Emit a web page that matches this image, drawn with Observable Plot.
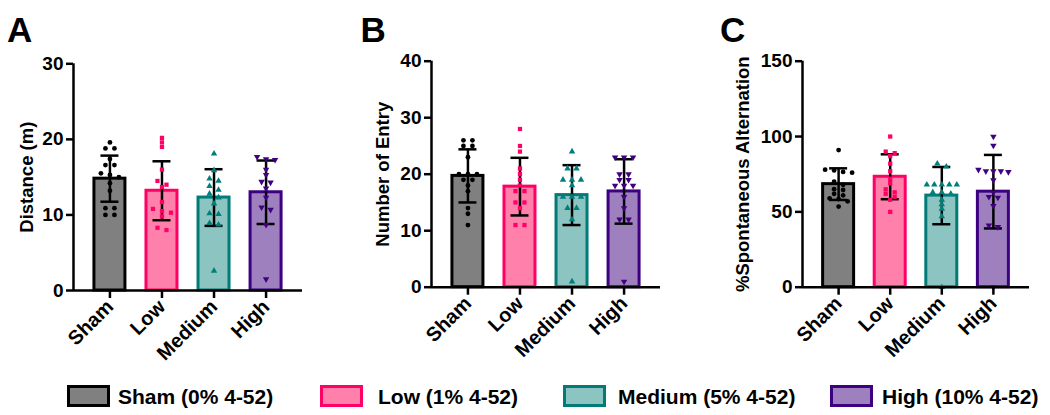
<!DOCTYPE html>
<html><head><meta charset="utf-8">
<script src="https://cdn.jsdelivr.net/npm/d3@7"></script>
<script src="https://cdn.jsdelivr.net/npm/@observablehq/plot@0.6"></script>
<style>
body{margin:0;background:#fff;}
#root{position:relative;width:1050px;height:415px;overflow:hidden;background:#fff;font-family:"Liberation Sans",Arial,sans-serif;font-weight:bold;color:#000}
.panel{position:absolute;top:0}
.letter{position:absolute;font-size:35px;line-height:35px;top:12px}
.sw{position:absolute;top:385px;width:37px;height:16px;border:3px solid;box-sizing:content-box}
.lt{position:absolute;top:386px;font-size:21px;line-height:22px;white-space:nowrap}
</style></head><body><div id="root"></div>
<script>
// ---------- data ----------
const groups = ["Sham", "Low", "Medium", "High"];
const legendLabels = ["Sham (0% 4-52)", "Low (1% 4-52)", "Medium (5% 4-52)", "High (10% 4-52)"];

// Panel A: Distance (m)
const distSham   = [19.6, 18.8, 18.8, 17.4, 16.6, 16.6, 15.5, 15.3, 15.0, 14.2, 13.2, 10.9, 10.9, 10.0, 10.0];
const distLow    = [20.2, 19.6, 19.0, 16.0, 14.5, 14.0, 13.7, 11.7, 10.8, 10.5, 10.3, 9.8, 8.3, 8.0];
const distMedium = [18.1, 15.9, 14.8, 14.5, 13.8, 13.3, 12.8, 12.3, 11.5, 10.2, 10.1, 8.9, 8.7, 2.6];
const distHigh   = [17.7, 17.4, 17.3, 16.0, 15.3, 14.4, 14.3, 13.5, 12.3, 11.0, 10.7, 8.7, 1.5];
const distMean = [14.8, 13.2, 12.3, 13.0];
const distSD   = [3.05, 3.9, 3.75, 4.2];
const distTicks = [0, 10, 20, 30];

// Panel B: Number of Entry
const entSham   = [26, 26, 25, 25, 23, 20, 20, 20, 19, 19, 18, 17, 14, 13, 11];
const entLow    = [28, 25, 24, 21, 20, 19, 18, 17, 17, 15, 15, 14, 11, 11];
const entMedium = [24, 21, 21, 19, 19, 19, 18, 16, 16, 16, 14, 14, 12, 1];
const entHigh   = [23, 23, 23, 20, 20, 19, 19, 18, 18, 18, 16, 14, 12, 12, 1];
const entMean = [19.7, 17.8, 16.3, 16.95];
const entSD   = [4.7, 5.1, 5.3, 5.7];
const entTicks = [0, 10, 20, 30, 40];

// Panel C: %Spontaneous Alternation
const altSham   = [91, 78, 77.5, 76.5, 76, 70, 68, 65, 64.5, 62, 61, 59, 58.5, 57, 53.5];
const altLow    = [100, 90, 89, 87, 82, 77, 72, 69, 65, 63, 62, 60, 58, 50];
const altMedium = [82, 80, 68, 68, 68, 68, 68, 63, 63, 62, 58, 55, 52, 47, 0];
const altHigh   = [100, 94, 78, 77, 77, 77, 76.5, 71, 63, 60, 59.5, 54, 41, 40, 0];
const altMean = [68.4, 73.3, 60.8, 63.4];
const altSD   = [10.5, 14.9, 19.0, 24.4];
const altTicks = [0, 50, 100, 150];

// ---------- styles ----------
const barFill   = ["#808080", "#FF80AB", "#8CC4C1", "#9E80BF"];
const barStroke = ["#000000", "#FF0066", "#007B78", "#3C0080"];
const ptColor   = ["#000000", "#FF0066", "#00807C", "#400080"];
const triDown = {
  draw(context, size) {
    const y = -Math.sqrt(size / (Math.sqrt(3) * 3));
    context.moveTo(0, -y * 2);
    context.lineTo(-Math.sqrt(3) * y, y);
    context.lineTo(Math.sqrt(3) * y, y);
    context.closePath();
  }
};
const symbols = ["circle", "square", "triangle", triDown];

function panel(o) {
  const x0 = -0.7, x1 = 3.7;
  const frameW = o.width - o.mL - o.mR, frameH = o.height - o.mT - o.mB;
  const pxX = frameW / (x1 - x0), pxY = frameH / o.yMax;
  const pts = [];
  o.values.forEach((vals, gi) => {
    const sorted = vals.slice().sort((a, b) => b - a);
    const rows = [];
    for (const v of sorted) {
      const r = rows[rows.length - 1];
      if (r && (r[0] - v) * pxY < 4) r.push(v); else rows.push([v]);
    }
    for (const r of rows) {
      const n = r.length, step = n > 1 ? Math.min(9, 30 / (n - 1)) : 0;
      r.forEach((v, k) => pts.push({g: gi, v, x: gi + (k - (n - 1) / 2) * step / pxX}));
    }
  });
  const summary = o.means.map((m, i) => ({g: i, m, lo: m - o.sds[i], hi: m + o.sds[i]}));
  const half = 15.5 / pxX, cap = 9 / pxX;
  const marks = [
    Plot.rectY(summary, {x1: d => d.g - half, x2: d => d.g + half, y1: 0, y2: "m",
      fill: d => barFill[d.g], stroke: d => barStroke[d.g], strokeWidth: 3}),
    Plot.ruleX(summary, {x: "g", y1: "lo", y2: "hi", stroke: "black", strokeWidth: 2.5}),
    Plot.ruleY(summary, {y: "hi", x1: d => d.g - cap, x2: d => d.g + cap, stroke: "black", strokeWidth: 2.5}),
    Plot.ruleY(summary, {y: "lo", x1: d => d.g - cap, x2: d => d.g + cap, stroke: "black", strokeWidth: 2.5}),
  ];
  groups.forEach((g, gi) => {
    marks.push(Plot.dot(pts.filter(p => p.g === gi), {x: "x", y: "v", symbol: symbols[gi],
      fill: ptColor[gi], r: 2.4, stroke: "none"}));
  });
  marks.push(
    Plot.ruleX([x0], {y1: 0, y2: o.yMax, stroke: "black", strokeWidth: 2.5}),
    Plot.ruleY([0], {x1: x0, x2: x1, stroke: "black", strokeWidth: 2.5}),
    Plot.axisY({ticks: o.yTicks, tickSize: 7, tickPadding: 3, strokeWidth: 2.5, label: null,
      tickFormat: d => d, fontSize: 19, fontWeight: "bold"}),
    Plot.axisX({ticks: [0, 1, 2, 3], tickFormat: i => groups[i], tickRotate: -45, tickSize: 8,
      tickPadding: 5, strokeWidth: 2.5, label: null, fontSize: 20, fontWeight: "bold"}),
    Plot.text([o.title], {frameAnchor: "left", dx: o.titleDx, rotate: -90, text: d => d,
      textAnchor: "middle", lineAnchor: "middle", fontSize: 18.5, fontWeight: "bold"})
  );
  return Plot.plot({
    width: o.width, height: o.height,
    marginLeft: o.mL, marginRight: o.mR, marginTop: o.mT, marginBottom: o.mB,
    x: {domain: [x0, x1], axis: null},
    y: {domain: [0, o.yMax], axis: null},
    color: {type: "identity"},
    style: {fontFamily: "'Liberation Sans', Arial, sans-serif", fontSize: "18px", fontWeight: "bold",
      color: "black", background: "transparent", overflow: "visible"},
    marks
  });
}

const root = document.getElementById("root");
const specs = [
  {left: 0, width: 322, height: 372, mL: 73, mR: 20, mT: 63.3, mB: 82, yMax: 30, yTicks: distTicks,
   values: [distSham, distLow, distMedium, distHigh], means: distMean, sds: distSD, title: "Distance (m)", titleDx: -46},
  {left: 340, width: 340, height: 372, mL: 91, mR: 20, mT: 60.7, mB: 85.3, yMax: 40, yTicks: entTicks,
   values: [entSham, entLow, entMedium, entHigh], means: entMean, sds: entSD, title: "Number of Entry", titleDx: -48},
  {left: 680, width: 364, height: 372, mL: 122, mR: 15, mT: 60.7, mB: 85.3, yMax: 150, yTicks: altTicks,
   values: [altSham, altLow, altMedium, altHigh], means: altMean, sds: altSD, title: "%Spontaneous Alternation", titleDx: -59},
];
specs.forEach(s => {
  const el = panel(s);
  el.classList.add("panel");
  el.style.left = s.left + "px";
  el.style.position = "absolute";
  el.style.top = "0px";
  root.appendChild(el);
});

// panel letters
[["A", 7], ["B", 360.5], ["C", 720]].forEach(([t, x]) => {
  const d = document.createElement("div");
  d.className = "letter"; d.textContent = t; d.style.left = x + "px";
  root.appendChild(d);
});

// legend
const swLeft = [67, 320, 563, 830];
const txLeft = [118, 378, 618, 882];
legendLabels.forEach((lab, i) => {
  const s = document.createElement("div");
  s.className = "sw"; s.style.left = swLeft[i] + "px";
  s.style.background = barFill[i]; s.style.borderColor = barStroke[i];
  root.appendChild(s);
  const t = document.createElement("div");
  t.className = "lt"; t.style.left = txLeft[i] + "px"; t.textContent = lab;
  root.appendChild(t);
});
</script>
</body></html>
